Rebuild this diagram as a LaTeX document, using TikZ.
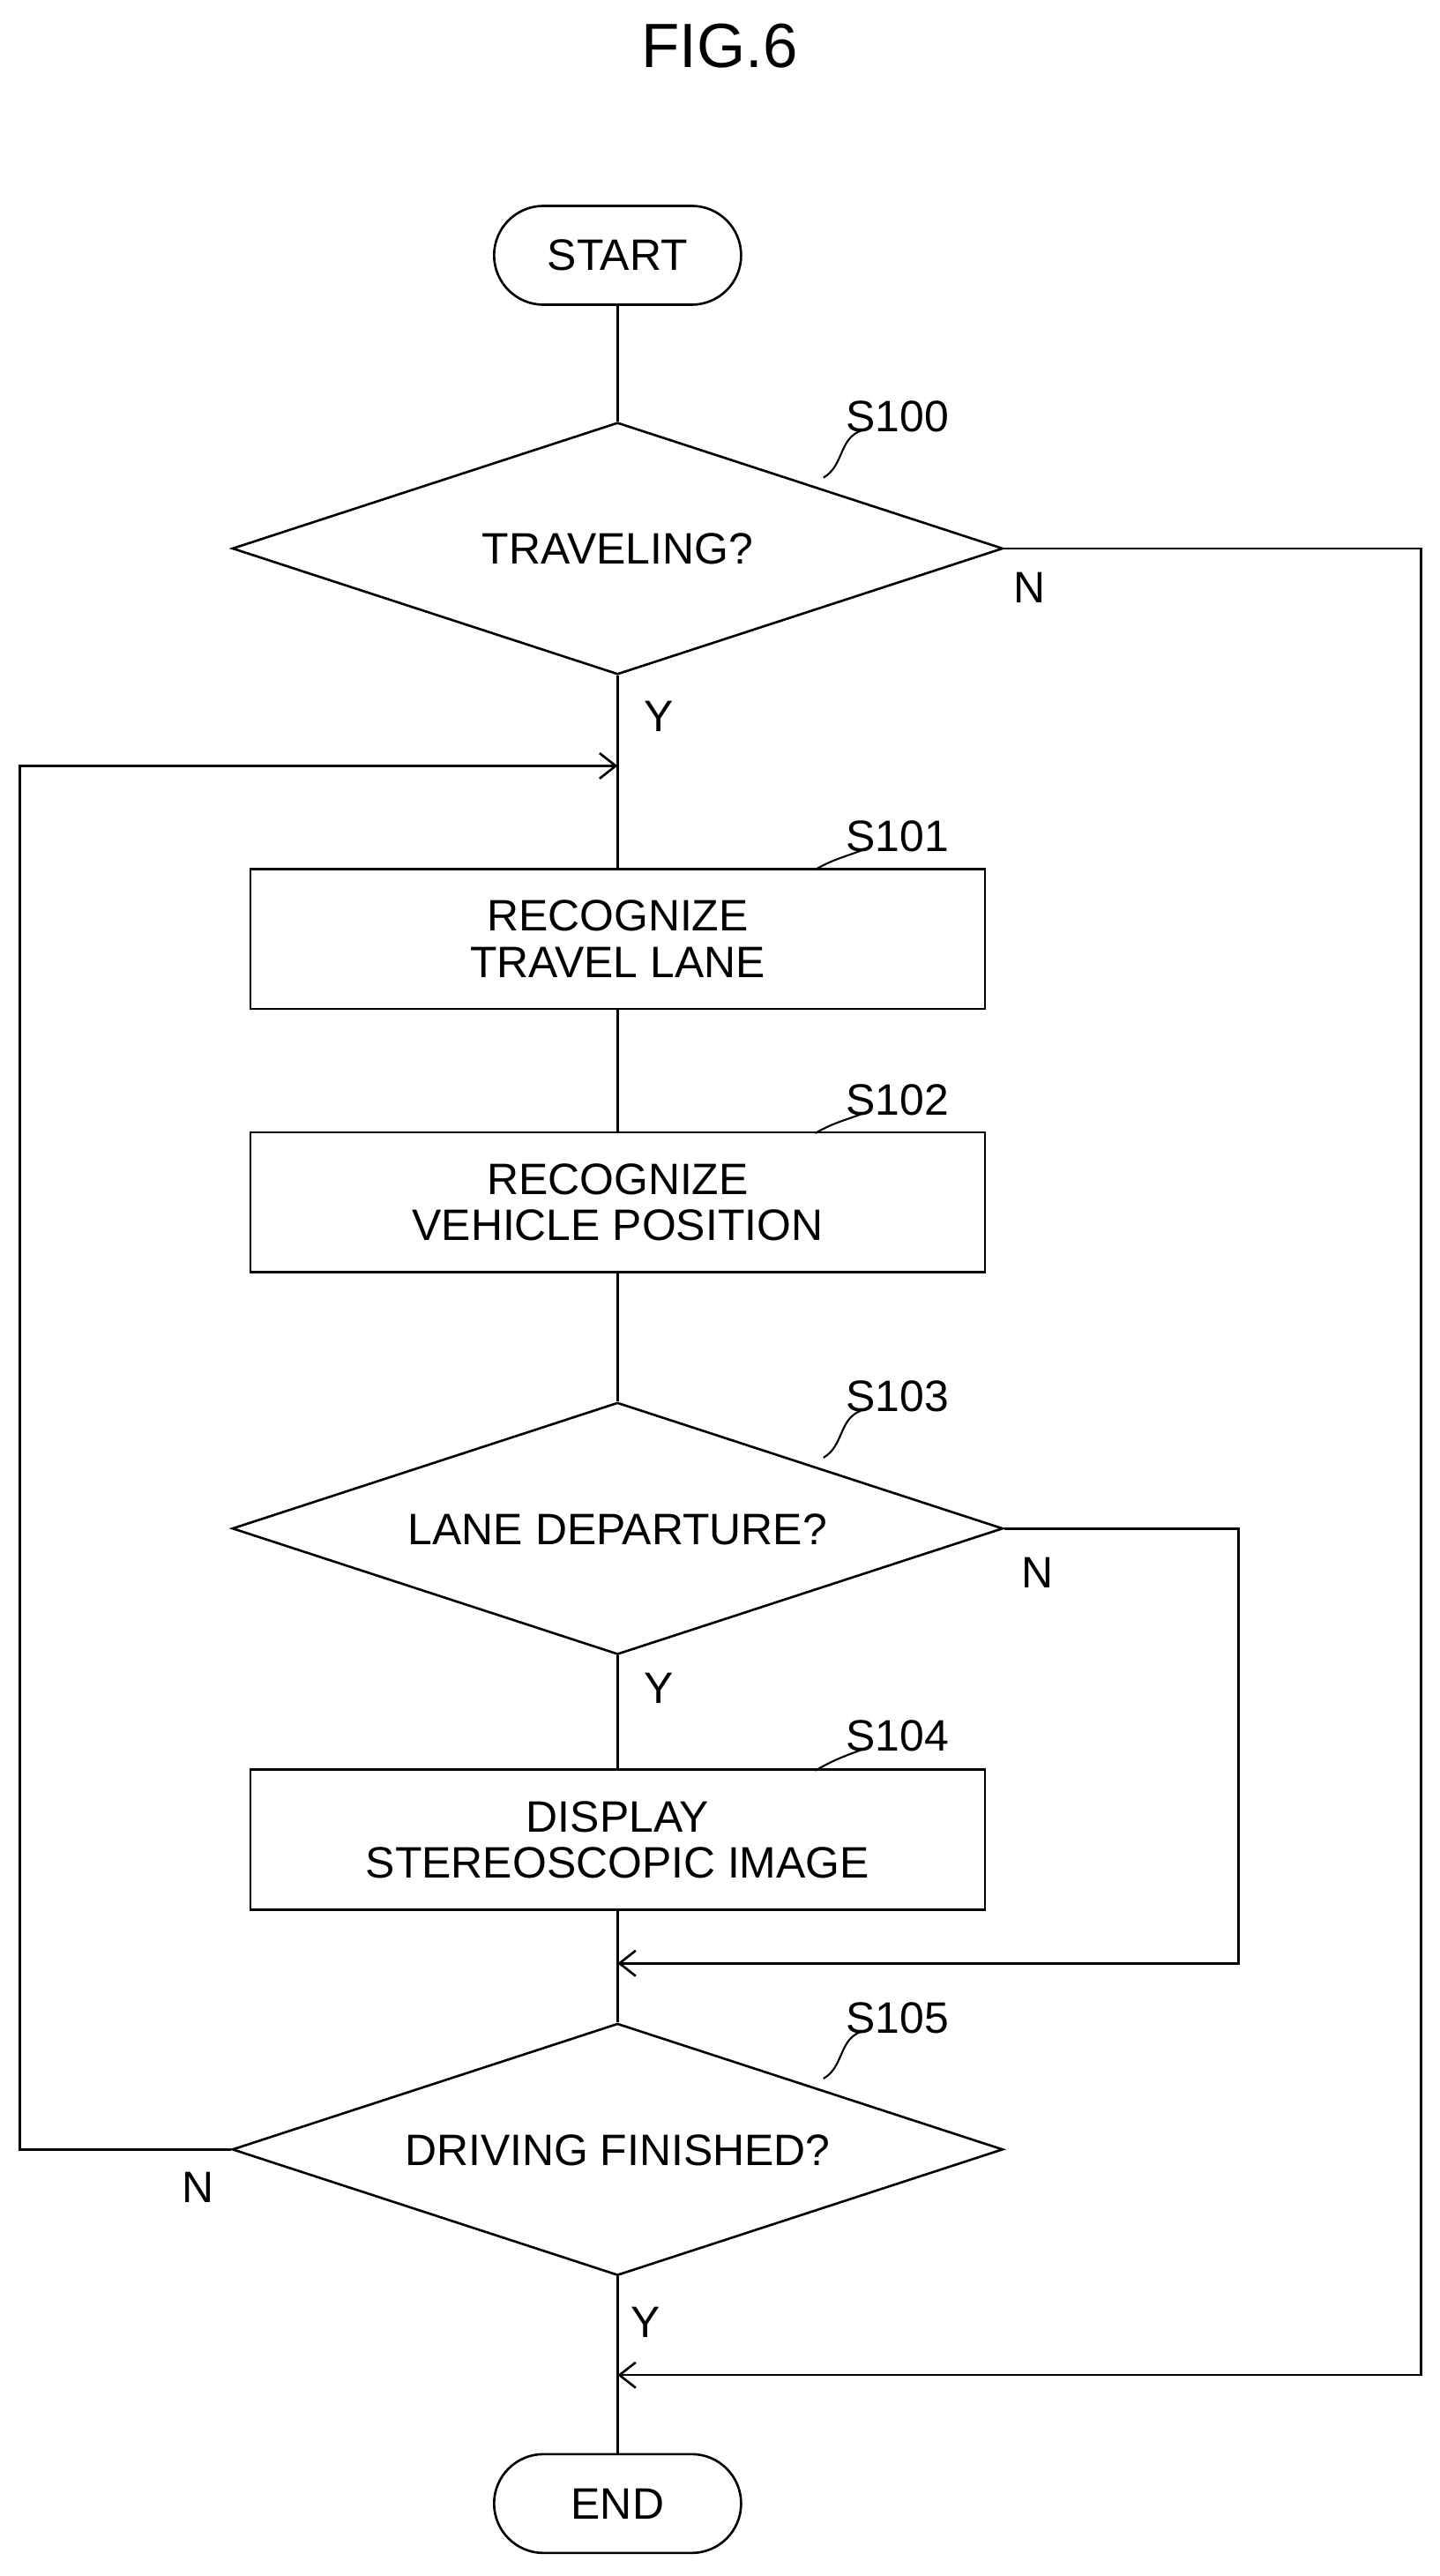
\documentclass[tikz,border=0pt]{standalone}
\usepackage{fontspec}
\setmainfont{Liberation Sans}
\usetikzlibrary{shapes.geometric,arrows.meta}

\newcommand{\dtext}[1]{\smash{\raisebox{-0.36em}{\makebox[0pt]{#1}}}}

\begin{document}
\begin{tikzpicture}[x=0.05cm,y=-0.05cm,line width=2pt,
  every node/.style={font=\fontsize{38}{44}\selectfont},
  term/.style={draw,rounded corners=30*0.05cm,minimum width=150*0.05cm,minimum height=60*0.05cm},
  proc/.style={draw,minimum width=446*0.05cm,minimum height=85*0.05cm,align=center,inner sep=0pt},
  dec/.style={draw,diamond,minimum width=468*0.05cm,minimum height=153*0.05cm,inner sep=0pt},
  arr/.style={-{Straight Barb[length=14pt,width=22pt]}},
  lead/.style={line width=1.6pt}]
  \useasboundingbox (0,0) rectangle (874,1564);
  \node[font=\fontsize{54}{60}\selectfont] (title) at (437,28) {FIG.6};

  % main column
  \node[term] (start) at (375,155) {START};
  \node[dec] (s100) at (375,333) {\dtext{TRAVELING?}};
  \coordinate (loopin) at (375,465);
  \node[proc] (s101) at (375,570) {RECOGNIZE\\[-4pt]TRAVEL LANE};
  \node[proc] (s102) at (375,730) {RECOGNIZE\\[-4pt]VEHICLE POSITION};
  \node[dec] (s103) at (375,928) {\dtext{LANE DEPARTURE?}};
  \node[proc] (s104) at (375,1117) {DISPLAY\\[-4pt]STEREOSCOPIC IMAGE};
  \coordinate (join1) at (375,1192);
  \node[dec] (s105) at (375,1305) {\dtext{DRIVING FINISHED?}};
  \coordinate (join2) at (375,1442);
  \node[term] (end) at (375,1520) {END};

  % step labels
  \node (l100) at (545,253) {S100};
  \node (l101) at (545,508) {S101};
  \node (l102) at (545,668) {S102};
  \node (l103) at (545,848) {S103};
  \node (l104) at (545,1054) {S104};
  \node (l105) at (545,1225) {S105};
  \draw[lead] (l100.south west) ++(12,-4) to[out=200,in=30] (500,290);
  \draw[lead] (l101.south west) ++(12,-4) to[out=200,in=30] (495,528);
  \draw[lead] (l102.south west) ++(12,-4) to[out=200,in=30] (495,688);
  \draw[lead] (l103.south west) ++(12,-4) to[out=200,in=30] (500,885);
  \draw[lead] (l104.south west) ++(12,-4) to[out=200,in=30] (495,1075);
  \draw[lead] (l105.south west) ++(12,-4) to[out=200,in=30] (500,1262);

  % flow
  \draw (start) -- (s100);
  \draw (s100) -- (loopin);
  \draw (loopin) -- (s101);
  \draw (s101) -- (s102);
  \draw (s102) -- (s103);
  \draw (s103) -- (s104);
  \draw (s104) -- (join1) -- (s105);
  \draw (s105) -- (join2) -- (end);
  \draw[arr] (s100.east) -- (863,333) -- (863,1442) -- (join2);
  \draw[arr] (s103.east) -- (752,928) -- (752,1192) -- (join1);
  \draw[arr] (s105.west) -- (12,1305) -- (12,465) -- (loopin);

  % branch labels
  \node at (625,357) {N};
  \node at (400,435) {Y};
  \node at (630,955) {N};
  \node at (400,1025) {Y};
  \node at (120,1328) {N};
  \node at (392,1410) {Y};
\end{tikzpicture}
\end{document}
